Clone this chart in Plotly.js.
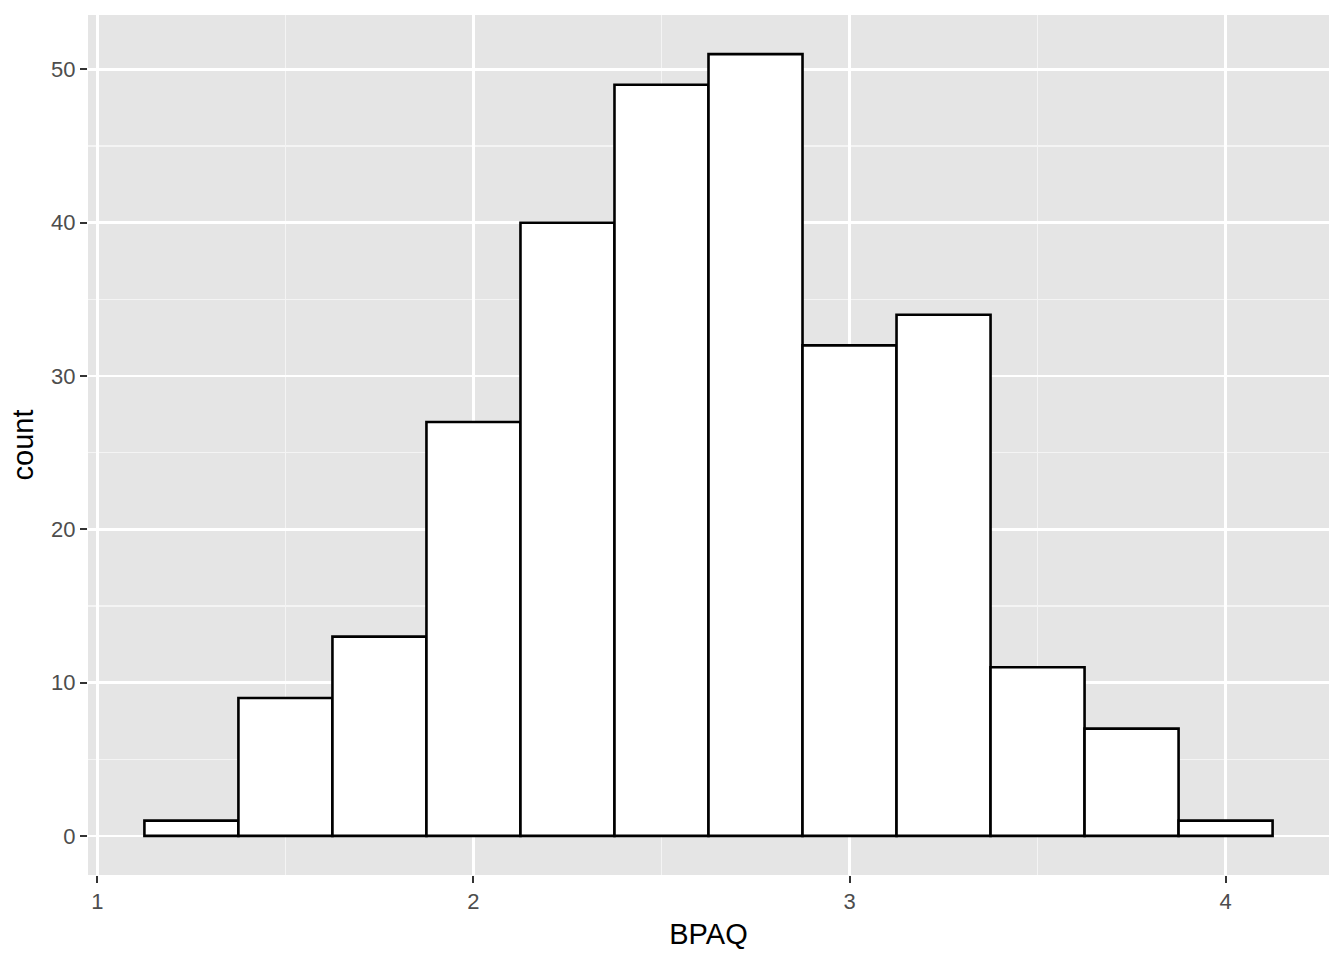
<!DOCTYPE html>
<html>
<head>
<meta charset="utf-8">
<script src="https://cdn.plot.ly/plotly-3.0.1.min.js"></script>
<style>html,body{margin:0;padding:0;background:#fff;}#chart{width:1344px;height:960px;}</style>
</head>
<body>
<div id="chart"></div>
<script>
const binCenters = [1.25, 1.5, 1.75, 2.0, 2.25, 2.5, 2.75, 3.0, 3.25, 3.5, 3.75, 4.0];
const counts = [1, 9, 13, 27, 40, 49, 51, 32, 34, 11, 7, 1];
const binWidth = 0.25;
const xTicks = [1, 2, 3, 4];
const yTicks = [0, 10, 20, 30, 40, 50];

const trace = {
  type: 'bar',
  x: binCenters,
  y: counts,
  width: binCenters.map(() => binWidth),
  marker: {color: '#ffffff', line: {color: '#000000', width: 2.6}},
  hoverinfo: 'x+y'
};

const tickFont = {family: 'Liberation Sans, Arial, sans-serif', size: 22, color: '#4d4d4d'};
const titleFont = {family: 'Liberation Sans, Arial, sans-serif', size: 29, color: '#000000'};

const layout = {
  width: 1344, height: 960,
  margin: {l: 88, r: 15, t: 15, b: 85},
  paper_bgcolor: '#ffffff',
  plot_bgcolor: '#e5e5e5',
  showlegend: false,
  bargap: 0,
  xaxis: {
    range: [0.975, 4.275],
    tickvals: xTicks,
    ticktext: xTicks.map(String),
    showgrid: true, gridcolor: '#ffffff', gridwidth: 2.5,
    minor: {dtick: 0.5, tick0: 0.5, showgrid: true, gridcolor: '#f4f4f4', gridwidth: 1.3, ticks: ''},
    zeroline: false, showline: false,
    ticks: 'outside', ticklen: 7, tickwidth: 2, tickcolor: '#333333',
    tickfont: tickFont,
    title: {text: 'BPAQ', font: titleFont, standoff: 10}
  },
  yaxis: {
    range: [-2.55, 53.55],
    tickvals: yTicks,
    ticktext: yTicks.map(String),
    showgrid: true, gridcolor: '#ffffff', gridwidth: 2.5,
    minor: {dtick: 10, tick0: 5, showgrid: true, gridcolor: '#f4f4f4', gridwidth: 1.3, ticks: ''},
    zeroline: false, showline: false,
    ticks: 'outside', ticklen: 7, tickwidth: 2, tickcolor: '#333333',
    tickfont: tickFont,
    title: {text: 'count', font: titleFont, standoff: 8}
  }
};

Plotly.newPlot('chart', [trace], layout, {displayModeBar: false, staticPlot: true});
</script>
</body>
</html>
